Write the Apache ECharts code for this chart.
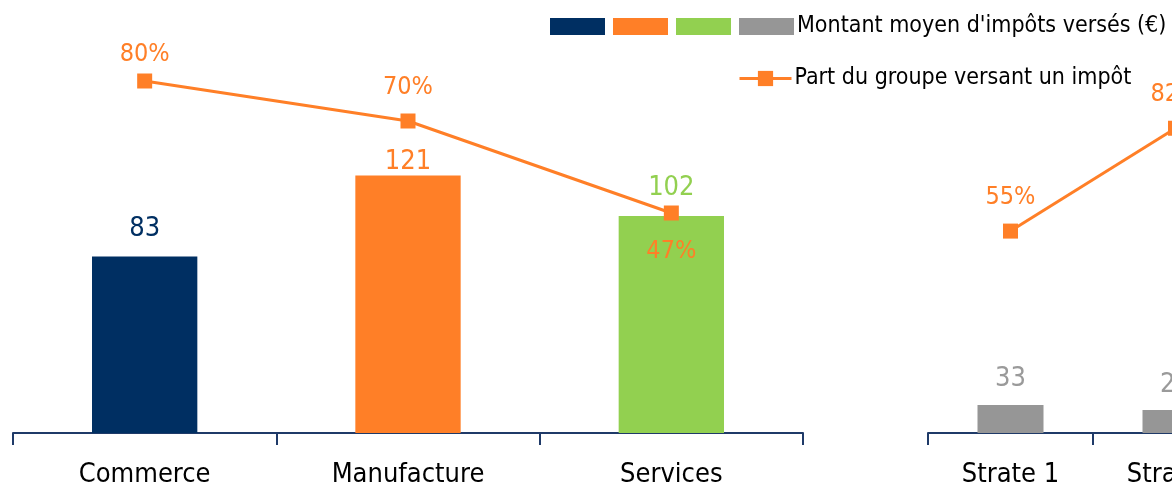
<!DOCTYPE html>
<html>
<head>
<meta charset="utf-8">
<script src="https://cdn.jsdelivr.net/npm/echarts@6/dist/echarts.min.js"></script>
<style>
  html, body { margin: 0; padding: 0; overflow: hidden; background: #fff; }
  #chart { width: 1420px; height: 484px; }
</style>
</head>
<body>
<div id="chart"></div>
<script>
// données
const sectors = ['Commerce', 'Manufacture', 'Services'];
const sectorAmounts = [83, 121, 102];
const sectorShares = [80, 70, 47];
const sectorColors = ['#002F62', '#FF7F27', '#92D050'];

const strates = ['Strate 1', 'Strate 2'];
const strateAmounts = [33, 27];
const strateShares = [55, 82];

const amountName = "Montant moyen d'impôts versés (€)";
const shareName = 'Part du groupe versant un impôt';

const FONT = "'DejaVu Sans Condensed', 'Roboto', sans-serif";
const orange = '#FF7F27';
const gray = '#969696';
const axisColor = '#1F3A68';

const chart = echarts.init(document.getElementById('chart'));

function catAxis(idx, data) {
  return {
    type: 'category', gridIndex: idx, data: data,
    axisLine: { lineStyle: { color: axisColor, width: 2 } },
    axisTick: { show: true, length: 12, lineStyle: { color: axisColor, width: 2 } },
    axisLabel: { color: '#000', fontFamily: FONT, fontSize: 27, margin: 28 }
  };
}
function valAxis(idx, min, max) {
  return { type: 'value', gridIndex: idx, min: min, max: max, show: false, splitLine: { show: false } };
}

// barres par secteur, empilées pour rester centrées
const sectorSeries = sectors.map((s, i) => ({
  name: s, type: 'bar', xAxisIndex: 0, yAxisIndex: 0, stack: 'sect',
  barWidth: '40%',
  itemStyle: { color: sectorColors[i] },
  label: { show: true, position: 'top', distance: i === 1 ? 0 : 14, color: sectorColors[i], fontFamily: FONT, fontSize: 27 },
  data: sectorAmounts.map((v, j) => (j === i ? v : '-'))
}));

const lineLabel = {
  show: true, position: 'top', distance: 14, color: orange, fontFamily: FONT, fontSize: 25,
  formatter: p => p.value + '%'
};
const lineStyle = { color: orange, width: 3 };

chart.setOption({
  animation: false,
  grid: [
    { left: 13, top: 33, width: 790, height: 400, outerBoundsMode: 'none' },
    { left: 928, top: 33, width: 330, height: 400, outerBoundsMode: 'none' }
  ],
  xAxis: [catAxis(0, sectors), catAxis(1, strates)],
  yAxis: [valAxis(0, 0, 188), valAxis(0, -8, 92), valAxis(1, 0, 471), valAxis(1, 2, 107)],
  legend: [
    {
      left: 545, top: 10, itemWidth: 55, itemHeight: 17, itemGap: 8,
      icon: 'rect', selectedMode: false,
      textStyle: { fontFamily: FONT, fontSize: 23, color: '#000', padding: [0, 0, 0, -2] },
      formatter: n => (n === amountName ? n : ''),
      data: sectors.map((s, i) => ({ name: s, itemStyle: { color: sectorColors[i] } }))
        .concat([{ name: amountName, itemStyle: { color: gray } }])
    },
    {
      left: 733, top: 62, itemWidth: 52, itemHeight: 19,
      selectedMode: false,
      lineStyle: { width: 3 },
      textStyle: { fontFamily: FONT, fontSize: 23, color: '#000', padding: [0, 0, 0, -2] },
      data: [shareName]
    }
  ],
  series: sectorSeries.concat([
    {
      name: shareName, type: 'line', xAxisIndex: 0, yAxisIndex: 1,
      symbol: 'rect', symbolSize: 15,
      lineStyle: lineStyle, itemStyle: { color: orange },
      label: lineLabel,
      data: sectorShares.map((v, i) => {
        if (i === 0) return { value: v, label: { distance: 7 } };
        if (i === 2) return { value: v, label: { position: 'bottom', distance: 18 } };
        return v;
      })
    },
    {
      name: amountName, type: 'bar', xAxisIndex: 1, yAxisIndex: 2,
      barWidth: '40%', itemStyle: { color: gray },
      label: { show: true, position: 'top', distance: 12, color: '#9A9A9A', fontFamily: FONT, fontSize: 27 },
      data: strateAmounts
    },
    {
      name: shareName, type: 'line', xAxisIndex: 1, yAxisIndex: 3,
      symbol: 'rect', symbolSize: 15,
      lineStyle: lineStyle, itemStyle: { color: orange },
      label: lineLabel,
      data: strateShares
    }
  ])
});
</script>
</body>
</html>
